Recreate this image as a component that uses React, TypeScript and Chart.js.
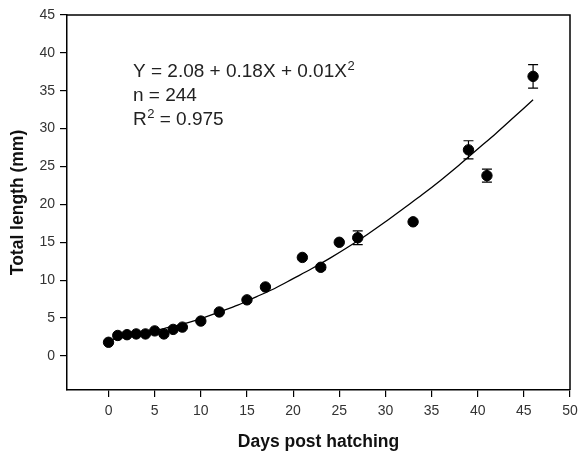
import React, { useEffect, useRef } from "react";
import { Chart, registerables } from "chart.js";

Chart.register(...registerables);

const days = [0, 1, 2, 3, 4, 5, 6, 7, 8, 10, 12, 15, 17, 21, 23, 25, 27, 33, 39, 41, 46];
const lengths = [1.8, 2.7, 2.8, 2.9, 2.9, 3.3, 2.9, 3.5, 3.8, 4.6, 5.8, 7.4, 9.1, 13.0, 11.7, 15.0, 15.6, 17.7, 27.2, 23.8, 36.9];
const errors = [0, 0, 0, 0, 0, 0, 0, 0, 0, 0, 0, 0, 0, 0, 0.3, 0, 0.9, 0, 1.2, 0.85, 1.55];

const curveX = [0, 2, 4, 6, 8, 10, 12, 14, 16, 18, 20, 22, 24, 26, 28, 30, 32, 34, 36, 38, 40, 42, 44, 46];
const curveY = [2.1, 2.5, 3.0, 3.6, 4.2, 4.9, 5.8, 6.7, 7.8, 8.9, 10.2, 11.5, 12.9, 14.4, 16.0, 17.7, 19.5, 21.3, 23.2, 25.2, 27.3, 29.4, 31.6, 33.8];

const xTicks = [0, 5, 10, 15, 20, 25, 30, 35, 40, 45, 50];
const yTicks = [0, 5, 10, 15, 20, 25, 30, 35, 40, 45];

const annotationLines = ["Y = 2.08 + 0.18X + 0.01X", "n = 244", "R"];
const annotationSup = ["2", "", "2"];
const annotationTail = ["", "", " = 0.975"];

const FONT = "'Liberation Sans', Arial, sans-serif";

const boxAndErrors = {
  id: "boxAndErrors",
  afterDatasetsDraw(chart: any) {
    const { ctx, chartArea } = chart;
    const xs = chart.scales.x;
    const ys = chart.scales.y;
    ctx.save();
    ctx.strokeStyle = "#000";
    ctx.lineWidth = 1.2;
    for (let i = 0; i < days.length; i++) {
      const e = errors[i];
      if (!e) continue;
      const px = xs.getPixelForValue(days[i]);
      const pTop = ys.getPixelForValue(lengths[i] + e);
      const pBot = ys.getPixelForValue(lengths[i] - e);
      ctx.beginPath();
      ctx.moveTo(px, pTop);
      ctx.lineTo(px, pBot);
      ctx.moveTo(px - 5, pTop);
      ctx.lineTo(px + 5, pTop);
      ctx.moveTo(px - 5, pBot);
      ctx.lineTo(px + 5, pBot);
      ctx.stroke();
    }
    ctx.lineWidth = 1.5;
    ctx.beginPath();
    ctx.moveTo(chartArea.left, chartArea.top);
    ctx.lineTo(chartArea.right, chartArea.top);
    ctx.lineTo(chartArea.right, chartArea.bottom);
    ctx.stroke();
    ctx.fillStyle = "#222";
    ctx.textBaseline = "alphabetic";
    const x0 = 133;
    let y = 76.5;
    for (let i = 0; i < annotationLines.length; i++) {
      ctx.font = `19px ${FONT}`;
      ctx.fillText(annotationLines[i], x0, y);
      let w = ctx.measureText(annotationLines[i]).width;
      if (annotationSup[i]) {
        ctx.font = `13px ${FONT}`;
        ctx.fillText(annotationSup[i], x0 + w + 0.5, y - 7);
        w += ctx.measureText(annotationSup[i]).width + 0.5;
      }
      if (annotationTail[i]) {
        ctx.font = `19px ${FONT}`;
        ctx.fillText(annotationTail[i], x0 + w, y);
      }
      y += 24;
    }
    ctx.restore();
  },
};

export default function App() {
  const ref = useRef<HTMLCanvasElement>(null);
  useEffect(() => {
    if (!ref.current) return;
    const chart = new Chart(ref.current, {
      type: "scatter",
      data: {
        datasets: [
          {
            data: curveX.map((x, i) => ({ x, y: curveY[i] })),
            showLine: true,
            borderColor: "#000",
            borderWidth: 1.3,
            pointRadius: 0,
            tension: 0.3,
            fill: false,
          },
          {
            data: days.map((x, i) => ({ x, y: lengths[i] })),
            pointRadius: 5.2,
            pointBackgroundColor: "#000",
            pointBorderColor: "#000",
            showLine: false,
          },
        ],
      },
      options: {
        responsive: false,
        animation: false,
        layout: { padding: { left: 0, right: 9, top: 15, bottom: 0 } },
        plugins: { legend: { display: false }, tooltip: { enabled: false } },
        scales: {
          x: {
            type: "linear",
            min: -4.5,
            max: 50,
            afterBuildTicks: (s: any) => {
              s.ticks = xTicks.map((v) => ({ value: v }));
            },
            afterFit: (s: any) => {
              s.height = 63;
              s.paddingLeft = 0;
              s.paddingRight = 0;
            },
            grid: { display: true, drawOnChartArea: false, drawTicks: true, tickLength: 7, color: "#000", lineWidth: 1.2 },
            border: { display: true, color: "#000", width: 1.5 },
            ticks: { color: "#333", font: { family: FONT, size: 14 }, padding: 6, autoSkip: false, maxRotation: 0 },
            title: {
              display: true,
              text: "Days post hatching",
              color: "#111",
              font: { family: FONT, size: 17.5, weight: "bold" },
              padding: { top: 0, bottom: 0 },
            },
          },
          y: {
            type: "linear",
            min: -4.5,
            max: 45,
            afterBuildTicks: (s: any) => {
              s.ticks = yTicks.map((v) => ({ value: v }));
            },
            afterFit: (s: any) => {
              s.width = 67;
              s.paddingTop = 0;
              s.paddingBottom = 0;
            },
            grid: { display: true, drawOnChartArea: false, drawTicks: true, tickLength: 7, color: "#000", lineWidth: 1.2 },
            border: { display: true, color: "#000", width: 1.5 },
            ticks: { color: "#333", font: { family: FONT, size: 14 }, padding: 5, autoSkip: false },
            title: {
              display: true,
              text: "Total length (mm)",
              color: "#111",
              font: { family: FONT, size: 17.5, weight: "bold" },
              padding: { top: 8, bottom: 0 },
            },
          },
        },
      },
      plugins: [boxAndErrors],
    });
    return () => chart.destroy();
  }, []);
  return (
    <div style={{ position: "fixed", left: 0, top: 0, width: 579, height: 453, background: "#fff" }}>
      <canvas ref={ref} width={579} height={453} />
    </div>
  );
}
